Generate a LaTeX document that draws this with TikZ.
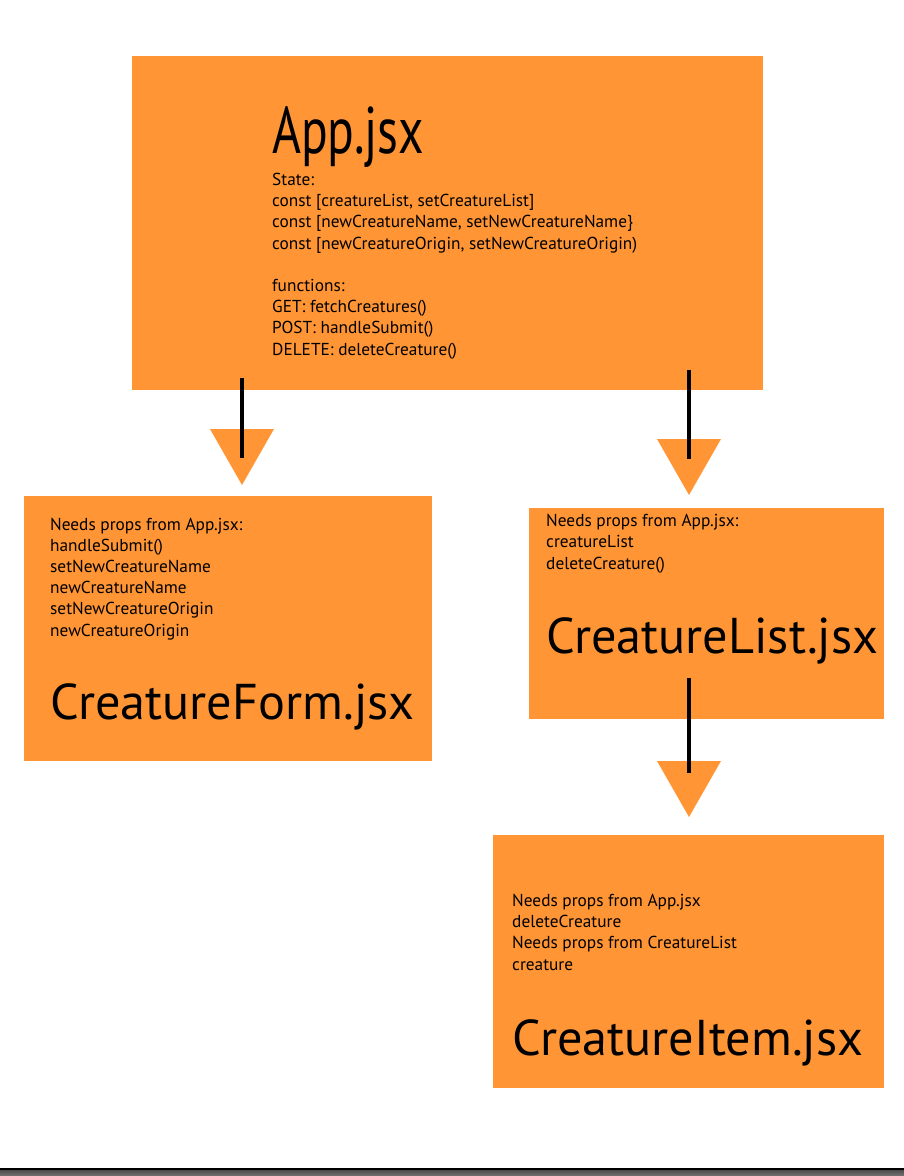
\documentclass[tikz,border=0pt]{standalone}
\usepackage{fontspec}
\setmainfont{PT Sans}
\usetikzlibrary{positioning}
\definecolor{boxorange}{RGB}{255,149,53}
\newcommand{\propsize}{\fontsize{17.3}{21.2}\selectfont}
\newcommand{\titlesize}{\fontsize{50.3}{58}\selectfont}

\begin{document}
\begin{tikzpicture}[x=1pt, y=-1pt,
		compbox/.style={fill=boxorange, draw=none, inner sep=0pt, anchor=north west},
		proptext/.style={inner sep=0pt, anchor=base west, align=left, font=\propsize},
		titletext/.style={inner sep=0pt, anchor=base west, font=\titlesize},
		stem/.style={line width=4.5pt, black},
		tip/.style={fill=boxorange}]
		\useasboundingbox (0,0) rectangle (904,1176);
		% components
		\node[compbox, minimum width=631pt, minimum height=334pt] (app) at (132,56) {};
		\node[compbox, minimum width=408pt, minimum height=265pt] (form) at (24,496) {};
		\node[compbox, minimum width=355pt, minimum height=211pt] (list) at (529,508) {};
		\node[compbox, minimum width=391pt, minimum height=253pt] (item) at (493,835) {};
		% texts (base anchor = baseline of the last line)
		\node[titletext, font=\fontsize{66}{70}\selectfont] (apptitle) at ([xshift=140pt, yshift=-97pt]app.north west) {\scalebox{0.75}[1]{App.jsx}};
		\node[proptext] (appstate) at ([xshift=140pt, yshift=-299pt]app.north west) {State:\\
			const [creatureList, setCreatureList]\\
			const [newCreatureName, setNewCreatureName\}\\
			const [newCreatureOrigin, setNewCreatureOrigin)\\[21.2pt]
			functions:\\
			GET: fetchCreatures()\\
			POST: handleSubmit()\\
			DELETE: deleteCreature()};
		\node[proptext] (formprops) at ([xshift=26pt, yshift=-140pt]form.north west) {Needs props from App.jsx:\\
			handleSubmit()\\
			setNewCreatureName\\
			newCreatureName\\
			setNewCreatureOrigin\\
			newCreatureOrigin};
		\node[titletext] (formtitle) at ([xshift=26pt, yshift=-223pt]form.north west) {CreatureForm.jsx};
		\node[proptext] (listprops) at ([xshift=17pt, yshift=-61pt]list.north west) {Needs props from App.jsx:\\
			creatureList\\
			deleteCreature()};
		\node[titletext] (listtitle) at ([xshift=17pt, yshift=-145pt]list.north west) {CreatureList.jsx};
		\node[proptext] (itemprops) at ([xshift=19pt, yshift=-135pt]item.north west) {Needs props from App.jsx\\
			deleteCreature\\
			Needs props from CreatureList\\
			creature};
		\node[titletext] (itemtitle) at ([xshift=19pt, yshift=-220pt]item.north west) {CreatureItem.jsx};
		% arrows
		\coordinate (formtip) at (242,485);
		\coordinate (listtip) at (689,495);
		\coordinate (itemtip) at (689,817);
		\foreach \t in {formtip, listtip, itemtip}
			\fill[tip] (\t) -- ++(-32,-56) -- ++(64,0) -- cycle;
		\draw[stem] ([yshift=12pt]app.south -| formtip) -- ([yshift=27pt]formtip);
		\draw[stem] ([yshift=20pt]app.south -| listtip) -- ([yshift=36pt]listtip);
		\draw[stem] ([yshift=41pt]list.south -| itemtip) -- ([yshift=44pt]itemtip);
		% bottom edge
		\fill[black] (0,1167.5) rectangle (904,1170);
		\shade[top color=black!70, bottom color=black!55] (0,1170) rectangle (904,1176);
	\end{tikzpicture}
\end{document}
